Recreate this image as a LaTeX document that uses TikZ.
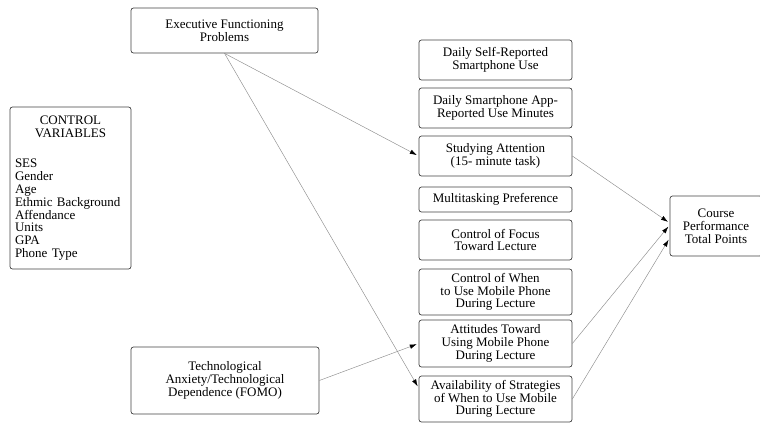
\documentclass[tikz,border=0pt]{standalone}
\usepackage{fontspec}
\setmainfont{Liberation Serif}
\usetikzlibrary{arrows.meta}
\begin{document}
\begin{tikzpicture}[x=1pt,y=-1pt,
  box/.style={draw=black!75,rounded corners=2.5pt,line width=0.7pt,align=center,inner sep=2pt,font=\fontsize{13}{12.8}\selectfont},
  col/.style={box,minimum width=153pt},
  link/.style={draw=black!45,line width=0.45pt,-{Latex[length=7pt,width=4.5pt,black]},shorten >=2pt}]
\useasboundingbox (0,0) rectangle (760,424);
\node[box,minimum width=187pt,minimum height=45pt] (exec) at (224.5,30.5) {Executive Functioning\\Problems};
\node[box,minimum width=188pt,minimum height=67pt] (tech) at (225,380.5) {Technological\\Anxiety/Technological\\Dependence (FOMO)};
\node[box,text width=111pt,inner xsep=5pt,minimum height=162pt,align=left] (ctrl) at (70.5,188)
  {{\centering CONTROL\\VARIABLES\par}\vspace{18pt}SES\\Gender\\Age\\Ethmic Background\\Affendance\\Units\\GPA\\Phone Type};
\node[col,minimum height=40pt] (self) at (495.5,60) {Daily Self-Reported\\Smartphone Use};
\node[col,minimum height=40pt] (app) at (495.5,108) {Daily Smartphone App-\\Reported Use Minutes};
\node[col,minimum height=40pt] (study) at (495.5,156) {Studying Attention\\(15- minute task)};
\node[col,minimum height=25pt] (multi) at (495.5,199.5) {Multitasking Preference};
\node[col,minimum height=40pt] (focus) at (495.5,240) {Control of Focus\\Toward Lecture};
\node[col,minimum height=46pt] (when) at (495.5,292) {Control of When\\to Use Mobile Phone\\During Lecture};
\node[col,minimum height=47pt] (att) at (495.5,343.5) {Attitudes Toward\\Using Mobile Phone\\During Lecture};
\node[col,minimum height=46pt] (avail) at (495.5,399) {Availability of Strategies\\of When to Use Mobile\\During Lecture};
\node[box,minimum width=92pt,minimum height=60pt] (course) at (716,226) {Course\\Performance\\Total Points};
\draw[link] (exec.south) -- (study.west);
\draw[link] (exec.south) -- ([yshift=11pt]avail.west);
\draw[link] (tech.east) -- (att.west);
\draw[link] (study.east) -- ([yshift=3pt]course.west);
\draw[link] (att.east) -- ([yshift=1pt]course.west);
\draw[link] (avail.east) -- ([yshift=-12pt]course.west);
\end{tikzpicture}
\end{document}
